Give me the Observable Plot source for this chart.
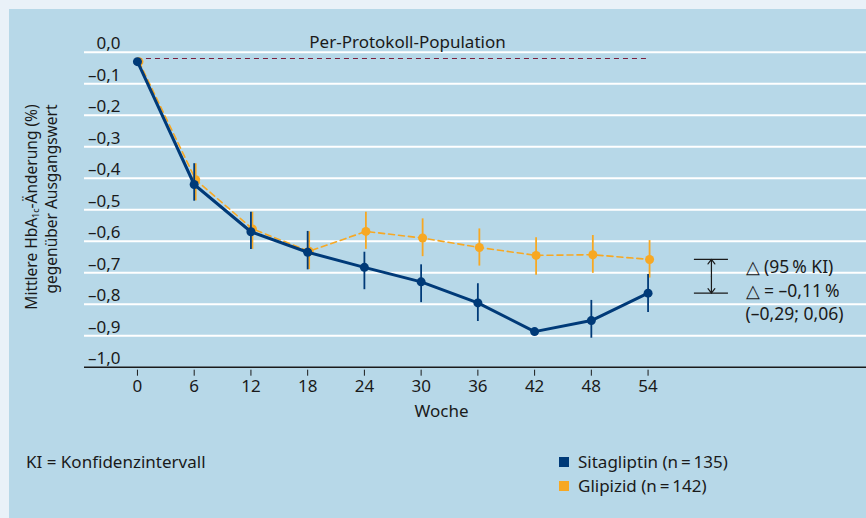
<!DOCTYPE html>
<html><head><meta charset="utf-8">
<script src="https://cdn.jsdelivr.net/npm/d3@7"></script>
<script src="https://cdn.jsdelivr.net/npm/@observablehq/plot@0.6"></script>
<style>
html,body{margin:0;padding:0;}
body{width:866px;height:518px;background:#e9f1f8;position:relative;overflow:hidden;font-family:"Noto Sans",sans-serif;color:#1a1a1a;}
#panel{position:absolute;left:9px;top:9px;width:857px;height:509px;background:#b7d8e8;}
#chart{position:absolute;left:0;top:0;}
#foot{position:absolute;left:26px;top:450px;font-size:17px;line-height:24px;}
#legend{position:absolute;left:559px;top:450px;font-size:17px;line-height:24px;}
#legend .sw{display:inline-block;width:10px;height:10px;margin-right:9px;vertical-align:1px;}
</style></head>
<body>
<div id="panel"></div>
<div id="chart"></div>
<div id="foot">KI = Konfidenzintervall</div>
<div id="legend"></div>
<script>
// ---- data ----
const weeks = [0, 6, 12, 18, 24, 30, 36, 42, 48, 54];
const sitaMean = [-0.03, -0.42, -0.57, -0.635, -0.683, -0.729, -0.796, -0.887, -0.852, -0.765];
const sitaLow  = [null, -0.473, -0.626, -0.691, -0.754, -0.795, -0.855, null, -0.908, -0.826];
const sitaHigh = [null, -0.354, -0.508, -0.569, -0.635, -0.675, -0.735, null, -0.788, -0.706];
const glipMean = [-0.03, -0.405, -0.561, -0.632, -0.569, -0.590, -0.620, -0.645, -0.643, -0.658];
const glipLow  = [null, -0.472, -0.626, -0.690, -0.626, -0.649, -0.679, -0.708, -0.702, -0.717];
const glipHigh = [null, -0.354, -0.508, -0.570, -0.508, -0.529, -0.561, -0.589, -0.582, -0.598];
const yTicks = [0, -0.1, -0.2, -0.3, -0.4, -0.5, -0.6, -0.7, -0.8, -0.9, -1.0];
const refLevel = -0.02;
const seriesNames = ["Sitagliptin (n\u2009=\u2009135)", "Glipizid (n\u2009=\u2009142)"];
const annotationLines = ["\u25B3 (95\u2009% KI)", "\u25B3 = \u20130,11\u2009%", "(\u20130,29; 0,06)"];

const navy = "#003a78", orange = "#f7a823", ink = "#1a1a1a";
const font = "'Noto Sans', sans-serif";

const sita = weeks.map((w, i) => ({week: w, mean: sitaMean[i], low: sitaLow[i], high: sitaHigh[i]}));
const glip = weeks.map((w, i) => ({week: w, mean: glipMean[i], low: glipLow[i], high: glipHigh[i]}));
const fmt = d => (d < 0 ? "\u2013" : "") + Math.abs(d).toFixed(1).replace(".", ",");

const lastG = glipMean[glipMean.length - 1], lastS = sitaMean[sitaMean.length - 1];
const midGS = (lastG + lastS) / 2;

const plot = Plot.plot({
  width: 866, height: 518,
  marginLeft: 84, marginRight: 0, marginTop: 51.7, marginBottom: 151.3,
  style: {background: "transparent", fontFamily: font, fontSize: "17px", color: ink},
  x: {domain: [-5.6, 77.1], axis: null},
  y: {domain: [-1, 0], axis: null},
  marks: [
    Plot.ruleY(yTicks.slice(0, -1), {stroke: "white", strokeWidth: 2}),
    Plot.ruleY([-1], {stroke: ink, strokeWidth: 1.5}),
    Plot.text(yTicks, {y: d => d, text: fmt, frameAnchor: "left", dx: 36, textAnchor: "end", lineAnchor: "bottom", dy: -3, fontSize: 17, fill: ink}),
    Plot.axisX({ticks: weeks, tickFormat: d => String(d), tickSize: 6, tickPadding: 4, dy: 3, label: null, fontSize: 17, stroke: ink, fill: ink}),
    Plot.text(["Woche"], {frameAnchor: "bottom-left", dx: 357, dy: 44, lineAnchor: "middle", textAnchor: "middle", fontSize: 17, fill: ink}),
    Plot.text(["Per-Protokoll-Population"], {frameAnchor: "top-left", dx: 323, dy: -10, lineAnchor: "middle", textAnchor: "middle", fontSize: 17, fill: ink}),
    Plot.ruleY([refLevel], {x1: weeks[0], x2: weeks[weeks.length - 1], stroke: "#7a1f3d", strokeWidth: 1.2, strokeDasharray: "5,4"}),
    // Glipizid
    Plot.ruleX(glip.filter(d => d.low != null), {x: "week", y1: "low", y2: "high", stroke: orange, strokeWidth: 1.8, dx: 1.5}),
    Plot.line(glip, {x: "week", y: "mean", stroke: orange, strokeWidth: 1.6, strokeDasharray: "6,4", dx: 1.5}),
    Plot.dot(glip, {x: "week", y: "mean", r: 4.5, fill: orange, dx: 1.5}),
    // Sitagliptin
    Plot.ruleX(sita.filter(d => d.low != null), {x: "week", y1: "low", y2: "high", stroke: navy, strokeWidth: 1.8}),
    Plot.line(sita, {x: "week", y: "mean", stroke: navy, strokeWidth: 3}),
    Plot.dot(sita, {x: "week", y: "mean", r: 4.5, fill: navy}),
    // difference bracket
    Plot.ruleY([lastG, lastS], {x1: 58.9, x2: 62.5, stroke: ink, strokeWidth: 1.3}),
    Plot.arrow([{y1: midGS, y2: lastG}, {y1: midGS, y2: lastS}], {x1: () => 60.7, x2: () => 60.7, y1: "y1", y2: "y2", stroke: ink, strokeWidth: 1.2, headLength: 13, headAngle: 75}),
    Plot.text([annotationLines.join("\n")], {frameAnchor: "top-left", dx: 661, dy: 237, lineAnchor: "middle", textAnchor: "start", lineHeight: 1.32, fontSize: 17.5, fill: ink})
  ]
});
document.getElementById("chart").appendChild(plot);

// y axis label with subscript
const svg = d3.select(plot);
const t1 = svg.append("text").attr("transform", "translate(33,207) rotate(-90)")
  .attr("text-anchor", "middle").attr("dominant-baseline", "middle")
  .attr("font-size", 15.5).attr("fill", ink).attr("font-family", font);
t1.append("tspan").text("Mittlere HbA");
t1.append("tspan").attr("font-size", 9).attr("dy", 4).text("1c");
t1.append("tspan").attr("dy", -4).text("-\u00C4nderung (%)");
svg.append("text").attr("transform", "translate(53,199) rotate(-90)")
  .attr("text-anchor", "middle").attr("dominant-baseline", "middle")
  .attr("font-size", 15.5).attr("fill", ink).attr("font-family", font)
  .text("gegen\u00FCber Ausgangswert");

// legend
const leg = document.getElementById("legend");
[[seriesNames[0], navy], [seriesNames[1], orange]].forEach(([name, c]) => {
  const row = document.createElement("div");
  row.innerHTML = `<span class="sw" style="background:${c}"></span>${name}`;
  leg.appendChild(row);
});
</script>
</body></html>
